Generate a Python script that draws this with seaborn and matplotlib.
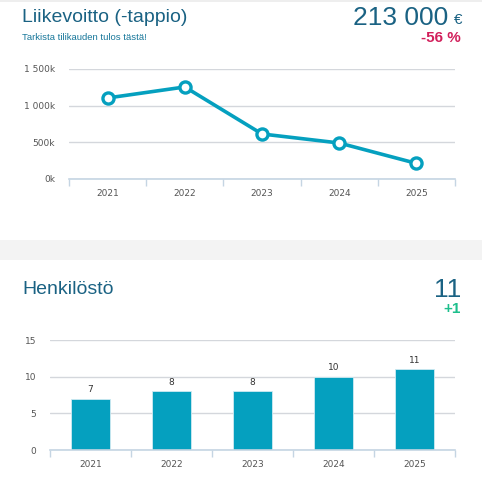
import numpy as np
import pandas as pd
import matplotlib
matplotlib.use('Agg')
import matplotlib.pyplot as plt
import seaborn as sns
from matplotlib.patches import Rectangle
from matplotlib.ticker import FuncFormatter, FixedLocator

# ── Data ──────────────────────────────────────────────────────────────────────
YEARS = ['2021', '2022', '2023', '2024', '2025']
PROFIT = [1105000, 1255000, 614000, 491000, 213000]
STAFF = [7, 8, 8, 10, 11]
PROFIT_TICKS = [0, 500000, 1000000, 1500000]
STAFF_TICKS = [0, 5, 10, 15]

TEAL = '#05a0bf'
DARK = '#1a6283'
GRID = '#d4d7dc'
AXIS = '#c5d5e3'
TICK = '#555555'

W, H = 482, 500
sns.set_theme(style='white')
plt.rcParams['font.family'] = ['Liberation Sans', 'DejaVu Sans']

fig = plt.figure(figsize=(W / 100, H / 100), dpi=100)
fig.patch.set_facecolor('white')


def px_axes(x0, y0, x1, y1):
    return fig.add_axes([x0 / W, 1 - y1 / H, (x1 - x0) / W, (y1 - y0) / H])


def k_fmt(v, _):
    s = f'{int(v / 1000):,}'.replace(',', ' ')
    return s + 'k'


def style_axes(ax, ticks, fmt=None):
    ax.set_xlim(-0.5, len(YEARS) - 0.5)
    ax.set_ylim(ticks[0], ticks[-1])
    ax.set_yticks(ticks)
    if fmt:
        ax.yaxis.set_major_formatter(FuncFormatter(fmt))
    ax.grid(axis='y', color=GRID, linewidth=1.0)
    ax.set_axisbelow(True)
    for s in ['top', 'right', 'left']:
        ax.spines[s].set_visible(False)
    ax.spines['bottom'].set_color(AXIS)
    ax.spines['bottom'].set_linewidth(1.2)
    ax.set_xlabel('')
    ax.set_ylabel('')
    ax.tick_params(axis='y', length=0, labelsize=6.5, labelcolor=TICK, pad=10)
    ax.tick_params(axis='x', which='major', length=0, labelsize=6.5, labelcolor=TICK, pad=7)
    ax.xaxis.set_minor_locator(FixedLocator(np.arange(-0.5, len(YEARS), 1)))
    ax.tick_params(axis='x', which='minor', length=5, width=1, color=AXIS, bottom=True)
    for lbl in ax.get_xticklabels() + ax.get_yticklabels():
        lbl.set_family('DejaVu Sans')


# ── Background band ───────────────────────────────────────────────────────────
fig.patches.append(Rectangle((0, 1 - 260 / H), 1, 20 / H, transform=fig.transFigure,
                             facecolor='#f3f3f3', edgecolor='none', zorder=0))
fig.patches.append(Rectangle((0, 1 - 2 / H), 1, 2 / H, transform=fig.transFigure,
                             facecolor='#eeeeee', edgecolor='none', zorder=0))

# ── Top: profit line ──────────────────────────────────────────────────────────
df_p = pd.DataFrame({'year': YEARS, 'profit': PROFIT})
ax1 = px_axes(69, 69, 455, 179)
sns.lineplot(data=df_p, x='year', y='profit', ax=ax1, color=TEAL, linewidth=2.6,
             marker='o', markersize=8, markerfacecolor='white',
             markeredgecolor=TEAL, markeredgewidth=2.4, clip_on=False, zorder=3)
style_axes(ax1, PROFIT_TICKS, k_fmt)

fig.text(22 / W, 1 - 18 / H, 'Liikevoitto (-tappio)', fontsize=14, color=DARK,
         va='center', ha='left')
fig.text(22 / W, 1 - 38 / H, 'Tarkista tilikauden tulos tästä!', fontsize=6.8,
         color='#17779a', va='center', ha='left')
fig.text(448 / W, 1 - 18 / H, '213 000', fontsize=19, color=DARK, va='center', ha='right')
fig.text(462 / W, 1 - 20 / H, '€', fontsize=11, color=DARK, va='center', ha='right')
fig.text(461 / W, 1 - 38 / H, '-56 %', fontsize=11, color='#d21f5b', va='center',
         ha='right', fontweight='bold')

# ── Bottom: staff bars ────────────────────────────────────────────────────────
df_s = pd.DataFrame({'year': YEARS, 'staff': STAFF})
ax2 = px_axes(50, 340, 455, 450)
sns.barplot(data=df_s, x='year', y='staff', ax=ax2, color=TEAL, saturation=1,
            width=0.48, edgecolor='#cfeaf2', linewidth=0.6)
style_axes(ax2, STAFF_TICKS)
for c in ax2.containers:
    ax2.bar_label(c, labels=[str(v) for v in STAFF], padding=3, fontsize=6.5,
                  color='#333333', family='DejaVu Sans')

fig.text(22 / W, 1 - 290 / H, 'Henkilöstö', fontsize=14, color=DARK, va='center', ha='left')
fig.text(461 / W, 1 - 290 / H, '11', fontsize=19, color=DARK, va='center', ha='right')
fig.text(461 / W, 1 - 309 / H, '+1', fontsize=11, color='#1dbf8c', va='center',
         ha='right', fontweight='bold')

fig.savefig('out.png', dpi=100)
